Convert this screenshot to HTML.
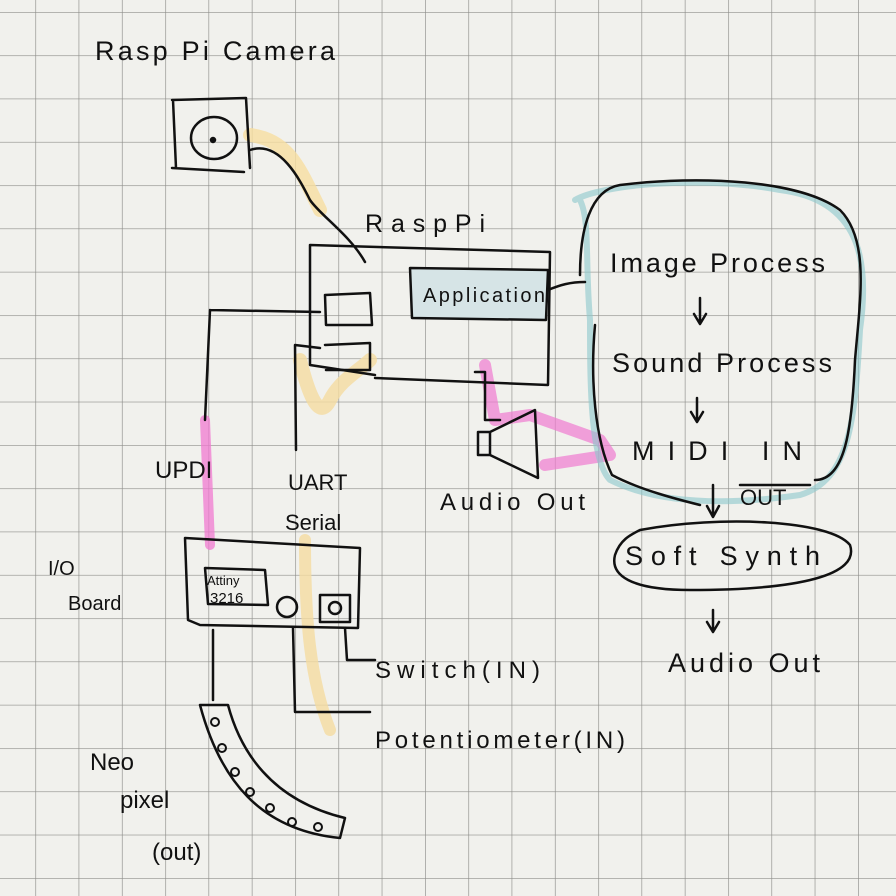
<!DOCTYPE html>
<html><head><meta charset="utf-8"><style>
html,body{margin:0;padding:0;background:#f1f1ed;}
svg{display:block}
text{font-family:"Liberation Sans",sans-serif;fill:#111;}
</style></head><body>
<svg width="896" height="896" viewBox="0 0 896 896" xmlns="http://www.w3.org/2000/svg">
<defs>
<pattern id="g" x="-8" y="12" width="43.3" height="43.3" patternUnits="userSpaceOnUse">
<path d="M0 0H43.3M0 0V43.3" stroke="#8e8e8a" stroke-width="1.3" fill="none"/>
</pattern>
</defs>
<rect width="896" height="896" fill="#f1f1ed"/>
<rect width="896" height="896" fill="url(#g)"/>
<!-- highlighter strokes -->
<g fill="none" stroke-linecap="round" stroke-linejoin="round">
<path d="M250 135 C290 140 300 170 320 210" stroke="#f7dfa0" stroke-width="14" opacity="0.8"/>
<path d="M300 360 C310 400 320 420 330 400 C340 380 360 370 370 360" stroke="#f5dca0" stroke-width="14" opacity="0.8"/>
<path d="M305 540 C305 620 310 680 330 730" stroke="#f5dca0" stroke-width="12" opacity="0.8"/>
<path d="M205 420 L210 545" stroke="#f07ad0" stroke-width="10" opacity="0.75"/>
<path d="M485 365 L495 420 L530 415 L600 440 L610 455 L545 465" stroke="#f07ad0" stroke-width="12" opacity="0.7"/>
<path d="M575 200 C600 185 700 175 780 190 C860 200 870 260 860 330 C855 420 850 480 800 495 C730 505 660 505 610 480 C590 460 590 380 590 320 C585 260 590 220 580 200" stroke="#8cc8cc" stroke-width="6" opacity="0.6"/>
</g>
<g fill="none" stroke="#111" stroke-width="2.5" stroke-linecap="round" stroke-linejoin="round">
<!-- camera -->
<path d="M172 100 L246 98 L250 168 M173 100 L176 168 M172 168 L244 172"/>
<ellipse cx="214" cy="138" rx="23" ry="21"/>
<circle cx="213" cy="140" r="2" fill="#111"/>
<path d="M250 150 C280 140 300 180 310 200 C320 215 350 235 365 262"/>
<!-- raspi box -->
<path d="M310 245 L550 252 L548 385 L375 378 M310 245 L310 365 L375 375"/>
<path d="M410 268 L548 270 L546 320 L412 318 Z" fill="#d6e4e6"/>
<path d="M325 295 L370 293 L372 325 L326 325 Z M325 345 L370 343 L370 370 L326 370"/>
<path d="M548 290 C560 285 570 282 585 282"/>
<path d="M210 310 L320 312 M210 310 L205 420"/>
<path d="M295 345 L320 348 M295 345 L296 450"/>
<path d="M475 372 L485 372 L485 420 L500 420"/>
<path d="M478 432 L490 432 L490 455 L478 455 Z M490 432 L535 410 L538 478 L490 455"/>
<!-- blue panel -->
<path d="M580 275 C580 230 590 190 620 185 C700 175 800 180 840 210 C870 240 860 300 855 360 C852 430 845 480 815 480"/>
<path d="M595 325 C590 380 595 440 612 475 C640 490 680 500 700 505"/>
<path d="M740 485 L810 485"/>
<!-- arrows -->
<path d="M700 298 L700 322 M694 314 L700 324 L706 314"/>
<path d="M697 398 L697 420 M691 412 L697 422 L703 412"/>
<path d="M713 485 L713 515 M707 506 L713 517 L719 506"/>
<path d="M713 610 L713 630 M707 622 L713 632 L719 622"/>
<!-- soft synth -->
<path d="M640 530 C720 515 830 520 850 545 C860 575 800 590 690 590 C630 590 610 575 615 555 C620 540 630 535 640 530 Z"/>
<!-- IO board -->
<path d="M185 538 L360 548 L358 628 L200 625 M185 538 L188 620 L200 625"/>
<path d="M205 568 L265 570 L268 605 L208 604 Z M320 595 L350 595 L350 622 L320 622 Z"/>
<circle cx="287" cy="607" r="10"/>
<circle cx="335" cy="608" r="6"/>
<path d="M345 628 L347 660 L375 660"/>
<path d="M293 628 L295 712 L370 712"/>
<path d="M213 630 L213 700"/>
<!-- neopixel -->
<path d="M200 705 L228 705 C240 750 270 800 345 818 L340 838 C260 830 220 780 200 705 Z"/>
</g>
<g fill="#111" font-size="0">
</g>
<g fill="none" stroke="#111" stroke-width="2">
<circle cx="215" cy="722" r="4"/><circle cx="222" cy="748" r="4"/><circle cx="235" cy="772" r="4"/><circle cx="250" cy="792" r="4"/><circle cx="270" cy="808" r="4"/><circle cx="292" cy="822" r="4"/><circle cx="318" cy="827" r="4"/>
</g>
<g font-size="27">
<text x="95" y="60" textLength="240">Rasp Pi Camera</text>
<text x="365" y="232" font-size="25" textLength="120">RaspPi</text>
<text x="610" y="272" textLength="215">Image Process</text>
<text x="612" y="372" textLength="220">Sound Process</text>
<text x="632" y="460" textLength="170">MIDI IN</text>
<text x="740" y="505" font-size="22">OUT</text>
<text x="625" y="565" textLength="195">Soft Synth</text>
<text x="668" y="672" textLength="152">Audio Out</text>
<text x="440" y="510" font-size="24" textLength="145">Audio Out</text>
<text x="155" y="478" font-size="24">UPDI</text>
<text x="288" y="490" font-size="22">UART</text>
<text x="285" y="530" font-size="22">Serial</text>
<text x="48" y="575" font-size="20">I/O</text>
<text x="68" y="610" font-size="20">Board</text>
<text x="375" y="678" font-size="24" textLength="165">Switch(IN)</text>
<text x="375" y="748" font-size="24" textLength="250">Potentiometer(IN)</text>
<text x="90" y="770" font-size="24">Neo</text>
<text x="120" y="808" font-size="24">pixel</text>
<text x="152" y="860" font-size="24">(out)</text>
</g>
<text x="423" y="302" font-size="20" textLength="122">Application</text>
<text x="207" y="585" font-size="13">Attiny</text>
<text x="210" y="603" font-size="15">3216</text>
</svg>
</body></html>
